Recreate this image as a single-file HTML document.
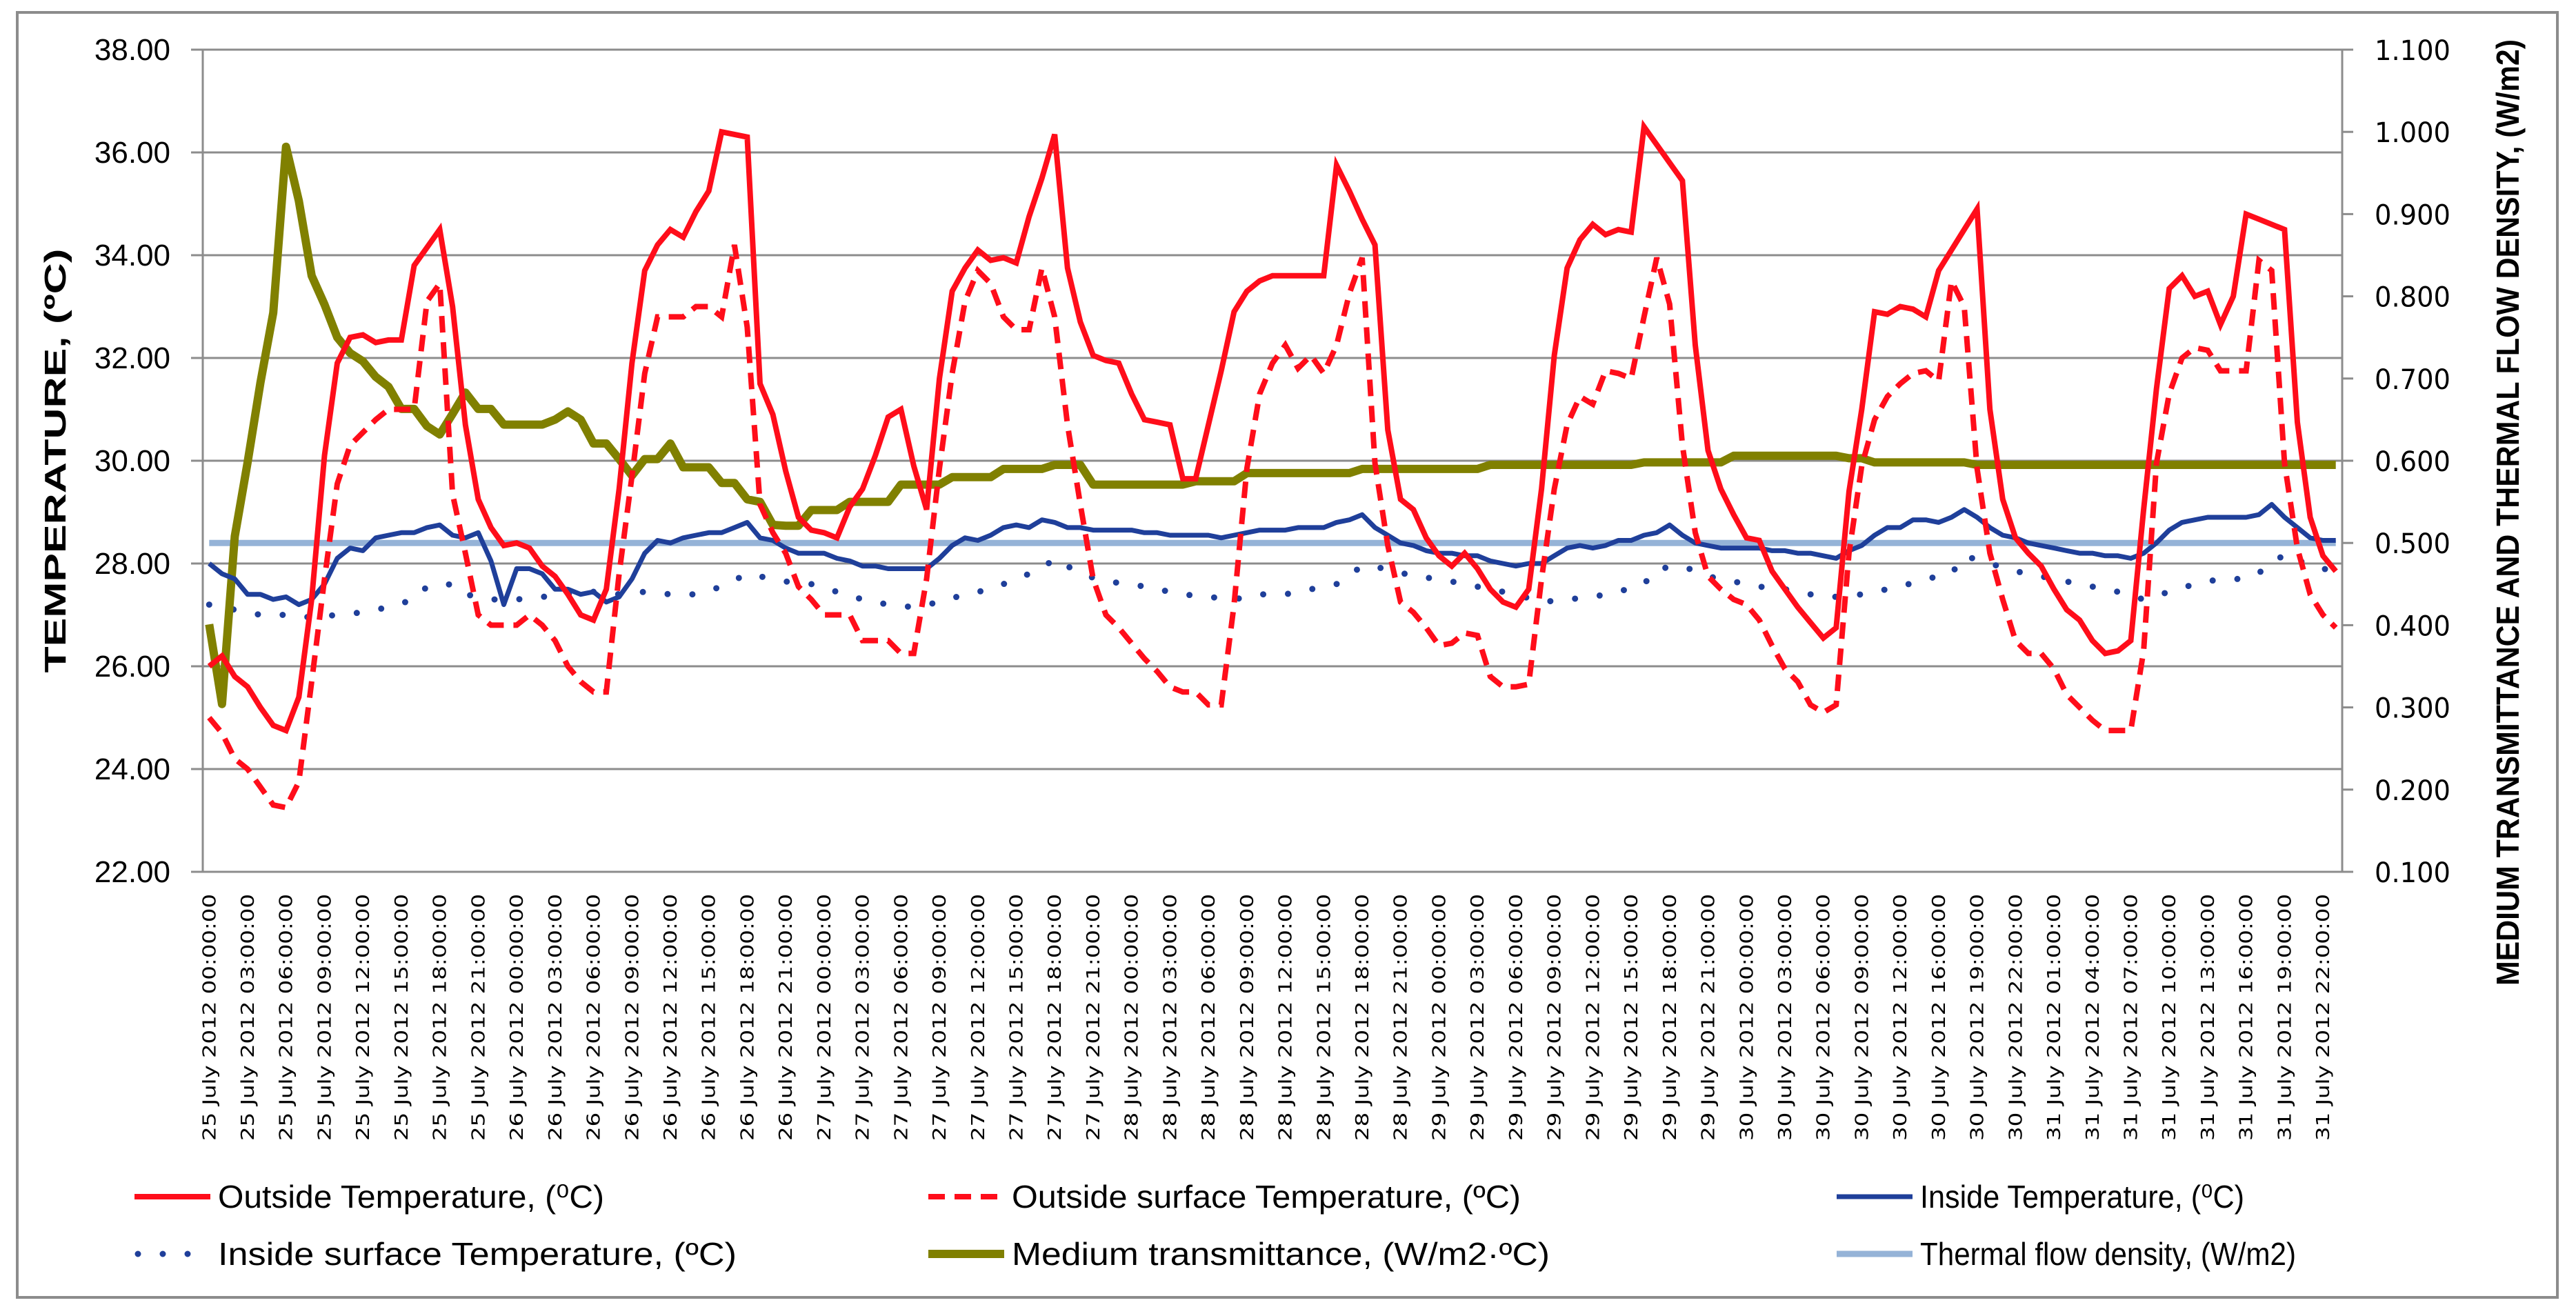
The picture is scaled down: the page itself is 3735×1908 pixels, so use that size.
<!DOCTYPE html>
<html>
<head>
<meta charset="utf-8">
<style>
html,body{margin:0;padding:0;background:#fff;}
svg{display:block;}
</style>
</head>
<body>
<svg id="chart" xmlns="http://www.w3.org/2000/svg" width="3735" height="1908" viewBox="0 0 3735 1908">
  <rect x="0" y="0" width="3735" height="1908" fill="#ffffff"/>
  <rect x="25" y="18" width="3683" height="1863" fill="none" stroke="#8c8c8c" stroke-width="4"/>
  <g id="grid"></g>
  <g id="axes"></g>
  <g id="series"></g>
  <g id="xlabels"></g>
  <text transform="translate(95,668) rotate(-90)" text-anchor="middle" font-family="Liberation Sans, sans-serif" font-weight="bold" font-size="44" textLength="615" lengthAdjust="spacingAndGlyphs" fill="#000">TEMPERATURE, (ºC)</text>
  <text transform="translate(3652,743) rotate(-90)" text-anchor="middle" font-family="Liberation Sans, sans-serif" font-weight="bold" font-size="46" textLength="1372" lengthAdjust="spacingAndGlyphs" fill="#000">MEDIUM TRANSMITTANCE AND THERMAL FLOW DENSITY, (W/m2)</text>
  <g id="legend"></g>
</svg>
<script>
const days = [25, 26, 27, 28, 29, 30, 31];
const skippedHour = { day: 30, hour: 13 };
const leftTicks = ["22.00","24.00","26.00","28.00","30.00","32.00","34.00","36.00","38.00"];
const leftTickValues = [22,24,26,28,30,32,34,36,38];
const rightTicks = ["0.100","0.200","0.300","0.400","0.500","0.600","0.700","0.800","0.900","1.000","1.100"];
const rightTickValues = [0.1,0.2,0.3,0.4,0.5,0.6,0.7,0.8,0.9,1.0,1.1];

const outsideTemp = [
26.0,26.2,25.8,25.6,25.2,24.85,24.75,25.4,27.3,30.1,
31.9,32.4,32.45,32.3,32.35,32.35,33.8,34.15,34.5,33.0,
30.7,29.25,28.7,28.35,28.4,28.3,27.95,27.75,27.4,27.0,
26.9,27.5,29.45,31.9,33.7,34.2,34.5,34.35,34.85,35.25,
36.4,36.35,36.3,31.5,30.9,29.8,28.9,28.65,28.6,28.5,
29.1,29.45,30.1,30.85,31.0,29.9,29.05,31.6,33.3,33.75,
34.1,33.9,33.95,33.85,34.75,35.5,36.35,33.75,32.7,32.05,
31.95,31.9,31.3,30.8,30.75,30.7,29.65,29.65,30.7,31.75,
32.9,33.3,33.5,33.6,33.6,33.6,33.6,33.6,35.75,35.25,
34.7,34.2,30.6,29.25,29.05,28.5,28.15,27.95,28.2,27.9,
27.5,27.25,27.15,27.5,29.45,32.05,33.75,34.3,34.6,34.4,
34.5,34.45,36.5,36.15,35.8,35.45,32.25,30.2,29.45,28.95,
28.5,28.45,27.85,27.5,27.15,26.85,26.55,26.75,29.4,31.0,
32.9,32.85,33.0,32.95,32.8,33.7,34.1,34.5,34.9,31.0,
29.25,28.5,28.2,27.95,27.5,27.1,26.9,26.5,26.25,26.3,
26.5,29.05,31.4,33.35,33.6,33.2,33.3,32.65,33.2,34.8,
34.7,34.6,34.5,30.75,28.9,28.15,27.85];

const outsideSurface = [
25.0,24.7,24.2,24.0,23.65,23.3,23.25,23.75,25.7,27.7,
29.55,30.3,30.55,30.8,31.0,31.0,31.0,33.1,33.45,29.35,
28.2,27.0,26.8,26.8,26.8,27.0,26.8,26.5,26.0,25.7,
25.5,25.5,27.8,29.7,31.7,32.8,32.8,32.8,33.0,33.0,
32.8,34.2,32.6,29.15,28.6,28.2,27.55,27.3,27.0,27.0,
27.0,26.5,26.5,26.5,26.25,26.25,27.7,29.85,31.7,33.1,
33.7,33.45,32.8,32.55,32.55,33.75,32.8,30.7,29.15,27.7,
27.0,26.75,26.45,26.15,25.9,25.6,25.5,25.5,25.25,25.25,
27.2,29.85,31.3,31.9,32.25,31.8,32.05,31.7,32.25,33.25,
33.95,29.95,28.35,27.25,27.05,26.75,26.4,26.45,26.65,26.6,
25.8,25.6,25.6,25.65,27.7,29.45,30.7,31.25,31.1,31.75,
31.7,31.6,32.8,33.95,33.05,30.3,28.6,27.75,27.5,27.3,
27.2,26.9,26.4,25.95,25.7,25.25,25.1,25.25,28.2,29.9,
30.8,31.25,31.5,31.7,31.75,31.55,33.5,33.0,29.85,28.2,
27.3,26.5,26.25,26.25,25.95,25.45,25.2,24.95,24.75,24.75,
24.75,26.3,29.95,31.3,32.0,32.2,32.15,31.75,31.75,31.75,
33.9,33.7,29.95,28.3,27.4,27.0,26.75];

const insideTemp = [
28.0,27.8,27.7,27.4,27.4,27.3,27.35,27.2,27.3,27.6,
28.1,28.3,28.25,28.5,28.55,28.6,28.6,28.7,28.75,28.55,
28.5,28.6,28.05,27.2,27.9,27.9,27.8,27.5,27.5,27.4,
27.45,27.25,27.35,27.7,28.2,28.45,28.4,28.5,28.55,28.6,
28.6,28.7,28.8,28.5,28.45,28.3,28.2,28.2,28.2,28.1,
28.05,27.95,27.95,27.9,27.9,27.9,27.9,28.1,28.35,28.5,
28.45,28.55,28.7,28.75,28.7,28.85,28.8,28.7,28.7,28.65,
28.65,28.65,28.65,28.6,28.6,28.55,28.55,28.55,28.55,28.5,
28.55,28.6,28.65,28.65,28.65,28.7,28.7,28.7,28.8,28.85,
28.95,28.7,28.55,28.4,28.35,28.25,28.2,28.2,28.15,28.15,
28.05,28.0,27.95,28.0,28.0,28.15,28.3,28.35,28.3,28.35,
28.45,28.45,28.55,28.6,28.75,28.55,28.4,28.35,28.3,28.3,
28.3,28.3,28.25,28.25,28.2,28.2,28.15,28.1,28.25,28.35,
28.55,28.7,28.7,28.85,28.85,28.8,28.9,29.05,28.9,28.7,
28.55,28.5,28.4,28.35,28.3,28.25,28.2,28.2,28.15,28.15,
28.1,28.2,28.4,28.65,28.8,28.85,28.9,28.9,28.9,28.9,
28.95,29.15,28.9,28.7,28.5,28.45,28.45];

const insideSurfaceIdx = [0,2,4,6,8,10,12,14,16,17,19,20,22,24,26,28,30,32,34,36,38,40,42,45,47,49,51,53,55,57,59,61,63,65,66,68,70,72,74,76,78,80,82,84,86,88,90,92,94,96,98,100,102,104,106,108,110,112,113,115,117,119,121,123,125,127,129,132,134,136,137,139,141,143,145,147,149,151,153,155,157,159,161,162,164,166];
const insideSurface = [27.2,27.1,27.0,27.0,26.95,27.0,27.05,27.15,27.3,27.55,27.6,27.4,27.3,27.3,27.35,27.4,27.45,27.4,27.45,27.4,27.4,27.55,27.8,27.65,27.6,27.45,27.3,27.2,27.15,27.25,27.4,27.5,27.7,27.9,28.1,27.8,27.65,27.6,27.5,27.4,27.35,27.3,27.4,27.4,27.5,27.6,27.95,27.9,27.75,27.7,27.6,27.5,27.4,27.25,27.3,27.35,27.45,27.6,27.9,27.95,27.75,27.65,27.55,27.5,27.4,27.35,27.4,27.55,27.7,27.8,28.15,28.0,27.85,27.75,27.65,27.55,27.45,27.3,27.45,27.6,27.7,27.7,27.95,28.2,27.95,27.85];

const mediumTransmittance = [
0.401,0.304,0.508,0.598,0.695,0.78,0.982,0.916,0.825,0.79,
0.75,0.731,0.721,0.702,0.69,0.663,0.663,0.642,0.632,0.657,
0.683,0.663,0.663,0.644,0.644,0.644,0.644,0.65,0.66,0.65,
0.621,0.621,0.602,0.582,0.602,0.602,0.621,0.592,0.592,0.592,
0.573,0.573,0.553,0.55,0.522,0.521,0.521,0.54,0.54,0.54,
0.55,0.55,0.55,0.55,0.571,0.571,0.571,0.571,0.58,0.58,
0.58,0.58,0.59,0.59,0.59,0.59,0.595,0.595,0.595,0.571,
0.571,0.571,0.571,0.571,0.571,0.571,0.571,0.575,0.575,0.575,
0.575,0.585,0.585,0.585,0.585,0.585,0.585,0.585,0.585,0.585,
0.59,0.59,0.59,0.59,0.59,0.59,0.59,0.59,0.59,0.59,
0.595,0.595,0.595,0.595,0.595,0.595,0.595,0.595,0.595,0.595,
0.595,0.595,0.598,0.598,0.598,0.598,0.598,0.598,0.598,0.606,
0.606,0.606,0.606,0.606,0.606,0.606,0.606,0.606,0.603,0.603,
0.598,0.598,0.598,0.598,0.598,0.598,0.598,0.598,0.595,0.595,
0.595,0.595,0.595,0.595,0.595,0.595,0.595,0.595,0.595,0.595,
0.595,0.595,0.595,0.595,0.595,0.595,0.595,0.595,0.595,0.595,
0.595,0.595,0.595,0.595,0.595,0.595,0.595];

const thermalFlow = [
0.5,0.5,0.5,0.5,0.5,0.5,0.5,0.5,0.5,0.5,
0.5,0.5,0.5,0.5,0.5,0.5,0.5,0.5,0.5,0.5,
0.5,0.5,0.5,0.5,0.5,0.5,0.5,0.5,0.5,0.5,
0.5,0.5,0.5,0.5,0.5,0.5,0.5,0.5,0.5,0.5,
0.5,0.5,0.5,0.5,0.5,0.5,0.5,0.5,0.5,0.5,
0.5,0.5,0.5,0.5,0.5,0.5,0.5,0.5,0.5,0.5,
0.5,0.5,0.5,0.5,0.5,0.5,0.5,0.5,0.5,0.5,
0.5,0.5,0.5,0.5,0.5,0.5,0.5,0.5,0.5,0.5,
0.5,0.5,0.5,0.5,0.5,0.5,0.5,0.5,0.5,0.5,
0.5,0.5,0.5,0.5,0.5,0.5,0.5,0.5,0.5,0.5,
0.5,0.5,0.5,0.5,0.5,0.5,0.5,0.5,0.5,0.5,
0.5,0.5,0.5,0.5,0.5,0.5,0.5,0.5,0.5,0.5,
0.5,0.5,0.5,0.5,0.5,0.5,0.5,0.5,0.5,0.5,
0.5,0.5,0.5,0.5,0.5,0.5,0.5,0.5,0.5,0.5,
0.5,0.5,0.5,0.5,0.5,0.5,0.5,0.5,0.5,0.5,
0.5,0.5,0.5,0.5,0.5,0.5,0.5,0.5,0.5,0.5,
0.5,0.5,0.5,0.5,0.5,0.5,0.5];

// categories (hourly timestamps)
const categories = [];
for (const d of days) {
  for (let h = 0; h < 24; h++) {
    if (d === skippedHour.day && h === skippedHour.hour) continue;
    categories.push(d + " July 2012 " + String(h).padStart(2, "0") + ":00:00");
  }
}

const NS = "http://www.w3.org/2000/svg";
const PX0 = 294, PX1 = 3396, PY0 = 72, PY1 = 1264;
const N = categories.length;
function xOf(i) { return PX0 + (i + 0.5) * (PX1 - PX0) / N; }
function yLeft(v) { return PY1 - (v - 22) / 16 * (PY1 - PY0); }
function yRight(v) { return PY1 - (v - 0.1) / 1.0 * (PY1 - PY0); }
function mk(tag, attrs, parent) {
  const e = document.createElementNS(NS, tag);
  for (const k in attrs) e.setAttribute(k, attrs[k]);
  parent.appendChild(e);
  return e;
}

const grid = document.getElementById("grid");
const axes = document.getElementById("axes");
leftTickValues.forEach((v, i) => {
  const y = yLeft(v);
  const g = mk("line", {x1: 277, x2: PX1, y1: y, y2: y, stroke: "#8c8c8c", "stroke-width": 3}, grid);
  
  
  const t = mk("text", {x: 247, y: y + 15, "text-anchor": "end", "font-family": "Liberation Sans, sans-serif", "font-size": 44, fill: "#000"}, axes);
  t.textContent = leftTicks[i];
  
  
});
const la = mk("line", {x1: PX0, x2: PX0, y1: PY0, y2: PY1, stroke: "#8c8c8c", "stroke-width": 3}, axes);


const ra = mk("line", {x1: PX1, x2: PX1, y1: PY0, y2: PY1, stroke: "#8c8c8c", "stroke-width": 3}, axes);


rightTickValues.forEach((v, i) => {
  const y = yRight(v);
  const tk = mk("line", {x1: PX1, x2: 3412, y1: y, y2: y, stroke: "#8c8c8c", "stroke-width": 3}, axes);
  
  
  const t = mk("text", {x: 3443, y: y + 15, "font-family": "DejaVu Sans, sans-serif", "font-size": 40, fill: "#000", textLength: 110, lengthAdjust: "spacingAndGlyphs"}, axes);
  t.textContent = rightTicks[i];
  
  
});

// x labels every 3 categories
const xl = document.getElementById("xlabels");
for (let i = 0; i < N; i += 3) {
  if (i >= N - 1) break;
  const x = xOf(i) + 9;
  const t = mk("text", {transform: "translate(" + x + ",1296) rotate(-90)", "text-anchor": "end", "font-family": "DejaVu Sans, sans-serif", "font-size": 26, fill: "#000", textLength: 358, lengthAdjust: "spacingAndGlyphs"}, xl);
  t.textContent = categories[i];
  
  
}

const ser = document.getElementById("series");
function pathFrom(idx, vals, yf) {
  return vals.map((v, k) => (k ? "L" : "M") + xOf(idx ? idx[k] : k).toFixed(1) + "," + yf(v).toFixed(1)).join(" ");
}
const p1 = mk("path", {d: pathFrom(null, thermalFlow, yRight), fill: "none", stroke: "#95b3d7", "stroke-width": 9}, ser);


const p2 = mk("path", {d: pathFrom(insideSurfaceIdx, insideSurface, yLeft), fill: "none", stroke: "#1f3f9a", "stroke-width": 9, "stroke-dasharray": "0 36", "stroke-linecap": "round"}, ser);


const p3 = mk("path", {d: pathFrom(null, mediumTransmittance, yRight), fill: "none", stroke: "#808000", "stroke-width": 12, "stroke-linejoin": "round"}, ser);


const p4 = mk("path", {d: pathFrom(null, insideTemp, yLeft), fill: "none", stroke: "#1f3f9a", "stroke-width": 7, "stroke-linejoin": "round"}, ser);


const p5 = mk("path", {d: pathFrom(null, outsideSurface, yLeft), fill: "none", stroke: "#ff0d1a", "stroke-width": 8, "stroke-dasharray": "24 14"}, ser);


const p6 = mk("path", {d: pathFrom(null, outsideTemp, yLeft), fill: "none", stroke: "#ff0d1a", "stroke-width": 8}, ser);



// legend
const lg = document.getElementById("legend");
const legendItems = [
  {label: "Outside Temperature, (⁰C)", x: 195, y: 1735, stroke: "#ff0d1a", w: 8, dash: null, len: 560},
  {label: "Outside surface Temperature, (ºC)", x: 1346, y: 1735, stroke: "#ff0d1a", w: 8, dash: "24 14", len: 738},
  {label: "Inside Temperature, (⁰C)", x: 2663, y: 1735, stroke: "#1f3f9a", w: 7, dash: null, len: 470},
  {label: "Inside surface Temperature, (ºC)", x: 195, y: 1818, stroke: "#1f3f9a", w: 9, dash: "0 36", len: 752},
  {label: "Medium transmittance, (W/m2·ºC)", x: 1346, y: 1818, stroke: "#808000", w: 12, dash: null, len: 780},
  {label: "Thermal flow density, (W/m2)", x: 2663, y: 1818, stroke: "#95b3d7", w: 9, dash: null, len: 545}
];
legendItems.forEach((it) => {
  const g = mk("g", {}, lg);
  
  
  const a = {x1: it.x, x2: it.x + 110, y1: it.y, y2: it.y, stroke: it.stroke, "stroke-width": it.w};
  if (it.dash) { a["stroke-dasharray"] = it.dash; }
  if (it.dash === "0 36") { a["stroke-linecap"] = "round"; a.x1 = it.x + 5; }
  const ln = mk("line", a, g);
  
  
  const t = mk("text", {x: it.x + 121, y: it.y + 16, "font-family": "Liberation Sans, sans-serif", "font-size": 46, fill: "#000", textLength: it.len, lengthAdjust: "spacingAndGlyphs"}, g);
  t.textContent = it.label;
  
  
});
</script>
</body>
</html>
